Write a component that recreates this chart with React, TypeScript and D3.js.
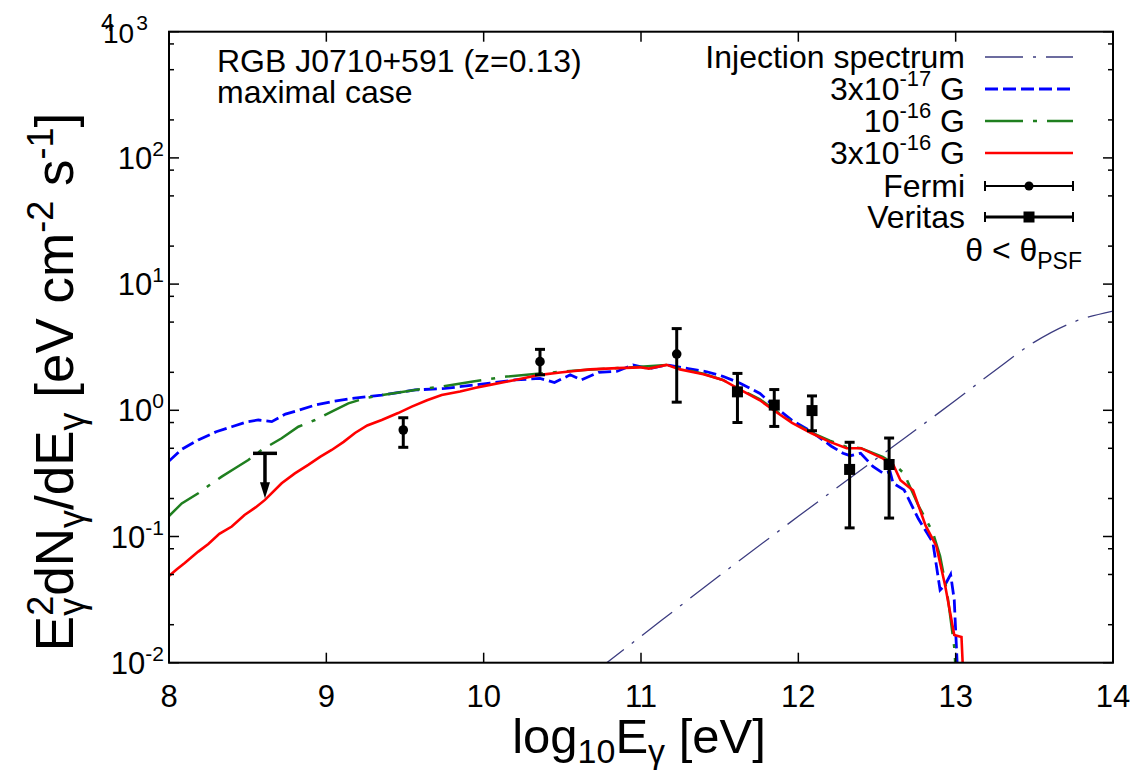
import React from "react";
import * as d3 from "d3";

// ---------- data (x = log10 E [eV], y = E^2 dN/dE [eV cm^-2 s^-1]) ----------
const injectionE = [10.7, 11.0, 11.5, 12.0, 12.5, 13.0, 13.25, 13.5, 13.75, 14.0];
const injectionF = [0.00832, 0.0162, 0.049, 0.1445, 0.417, 1.2, 2.07, 3.47, 5.01, 6.12];

const blueE = [8.0, 8.08, 8.186, 8.3, 8.399, 8.5, 8.568, 8.653, 8.74, 8.822, 8.93, 9.034, 9.161, 9.352, 9.564, 9.754, 10.04, 10.2, 10.358, 10.45, 10.55, 10.62, 10.73, 10.85, 10.949, 11.05, 11.163, 11.3, 11.418, 11.52, 11.63, 11.756, 11.85, 11.96, 12.081, 12.21, 12.284, 12.33, 12.396, 12.474, 12.538, 12.583, 12.602, 12.672, 12.763, 12.855, 12.901, 12.932, 12.968, 12.991, 13.013];
const blueF = [0.396, 0.49, 0.582, 0.676, 0.741, 0.813, 0.838, 0.813, 0.933, 1.0, 1.1, 1.17, 1.24, 1.32, 1.45, 1.49, 1.64, 1.74, 1.79, 1.66, 1.91, 1.74, 2.0, 2.04, 2.29, 2.14, 2.29, 2.14, 2.02, 1.86, 1.64, 1.36, 1.07, 0.832, 0.681, 0.519, 0.457, 0.437, 0.457, 0.359, 0.318, 0.326, 0.265, 0.234, 0.138, 0.0897, 0.0377, 0.0413, 0.05, 0.0314, 0.0079];

const greenE = [8.0, 8.081, 8.186, 8.26, 8.335, 8.42, 8.504, 8.589, 8.716, 8.822, 8.928, 9.034, 9.14, 9.246, 9.352, 9.564, 9.733, 9.932, 10.146, 10.358, 10.612, 10.85, 10.994, 11.163, 11.248, 11.397, 11.52, 11.624, 11.756, 11.852, 11.96, 12.081, 12.2, 12.307, 12.398, 12.536, 12.604, 12.672, 12.763, 12.855, 12.901, 12.946, 12.991, 13.002];
const greenF = [0.145, 0.183, 0.22, 0.257, 0.298, 0.347, 0.404, 0.485, 0.6, 0.741, 0.838, 0.975, 1.135, 1.245, 1.32, 1.45, 1.54, 1.69, 1.85, 1.96, 2.08, 2.16, 2.21, 2.29, 2.14, 1.95, 1.74, 1.48, 1.22, 1.0, 0.81, 0.668, 0.575, 0.513, 0.501, 0.427, 0.38, 0.315, 0.176, 0.108, 0.07, 0.0357, 0.0133, 0.0079];

const redE = [8.0, 8.05, 8.1, 8.186, 8.25, 8.32, 8.399, 8.48, 8.55, 8.61, 8.716, 8.8, 8.885, 8.96, 9.034, 9.11, 9.182, 9.26, 9.352, 9.456, 9.543, 9.64, 9.733, 9.85, 9.95, 10.04, 10.2, 10.358, 10.5, 10.676, 10.85, 10.994, 11.05, 11.163, 11.248, 11.397, 11.52, 11.624, 11.756, 11.852, 11.96, 12.081, 12.2, 12.307, 12.398, 12.536, 12.604, 12.649, 12.729, 12.809, 12.877, 12.934, 12.991, 13.037, 13.048];
const redF = [0.0486, 0.055, 0.0617, 0.0759, 0.0871, 0.105, 0.12, 0.148, 0.17, 0.195, 0.264, 0.316, 0.369, 0.427, 0.485, 0.562, 0.661, 0.759, 0.838, 0.951, 1.07, 1.2, 1.32, 1.41, 1.51, 1.59, 1.74, 1.91, 2.0, 2.11, 2.16, 2.19, 2.14, 2.29, 2.11, 1.93, 1.74, 1.47, 1.2, 0.984, 0.794, 0.661, 0.562, 0.501, 0.501, 0.416, 0.369, 0.279, 0.232, 0.122, 0.0843, 0.0403, 0.0166, 0.016, 0.0079];

const fermiE = [9.489, 10.358, 11.227];
const fermiF = [0.698, 2.43, 2.79];
const fermiLo = [0.509, 1.91, 1.16];
const fermiHi = [0.873, 3.04, 4.44];
const fermiLimitE = [8.61];
const fermiLimitF = [0.456];
const fermiLimitTip = [0.201];

const veritasE = [11.613, 11.847, 12.087, 12.326, 12.577];
const veritasF = [1.4, 1.1, 0.995, 0.34, 0.372];
const veritasLo = [0.8, 0.745, 0.689, 0.117, 0.14];
const veritasHi = [1.96, 1.46, 1.3, 0.558, 0.603];

const xTickValues = [8, 9, 10, 11, 12, 13, 14];
const yTickExponents = [-2, -1, 0, 1, 2, 3];
const yMinorMultipliers = [2, 5, 8];

// ---------- layout ----------
const W = 1139;
const H = 775;
const X0 = 169, X1 = 1113, Y0 = 31.7, Y1 = 662.7;
const FONT = "'Liberation Sans', Arial, Helvetica, sans-serif";

const x = d3.scaleLinear().domain([8, 14]).range([X0, X1]);
const y = d3.scaleLog().domain([1e-2, 1e3]).range([Y1, Y0]);

function pts(es: number[], fs: number[]): [number, number][] {
  return es.map((e, i) => [e, fs[i]]);
}
const lineGen = d3
  .line<[number, number]>()
  .x((d) => x(d[0]))
  .y((d) => y(d[1]));
const smoothGen = d3
  .line<[number, number]>()
  .x((d) => x(d[0]))
  .y((d) => y(d[1]))
  .curve(d3.curveMonotoneX);

const INJ_COLOR = "#3c3c80";
const BLUE = "#0000ff";
const GREEN = "#1f7f1f";
const RED = "#ff0000";

export default function App() {
  const yMinor: number[] = [];
  for (let p = -2; p < 3; p++) {
    for (const m of yMinorMultipliers) yMinor.push(m * Math.pow(10, p));
  }
  const legendX0 = 985, legendX1 = 1073, legendTextX = 965;
  const legY = [57, 89, 121, 153, 186, 217];
  const mid = (legendX0 + legendX1) / 2;

  return (
    <svg
      width={W}
      height={H}
      style={{ position: "absolute", left: 0, top: 0, background: "#fff" }}
      fontFamily={FONT}
    >
      <defs>
        <clipPath id="plotclip">
          <rect x={X0} y={Y0} width={X1 - X0} height={Y1 - Y0} />
        </clipPath>
      </defs>
      <rect x={0} y={0} width={W} height={H} fill="#fff" />

      {/* curves */}
      <g clipPath="url(#plotclip)" fill="none">
        <path d={smoothGen(pts(injectionE, injectionF)) || ""} stroke={INJ_COLOR} strokeWidth={1.3} strokeDasharray="38,10,3,10" />
        <path d={lineGen(pts(blueE, blueF)) || ""} stroke={BLUE} strokeWidth={2.8} strokeDasharray="13,5" />
        <path d={lineGen(pts(greenE, greenF)) || ""} stroke={GREEN} strokeWidth={2.5} strokeDasharray="38,10,4,10" />
        <path d={lineGen(pts(redE, redF)) || ""} stroke={RED} strokeWidth={2.6} />
      </g>

      {/* Fermi points */}
      <g stroke="#000" strokeWidth={3} fill="#000">
        {fermiE.map((e, i) => (
          <g key={"f" + i}>
            <line x1={x(e)} x2={x(e)} y1={y(fermiLo[i])} y2={y(fermiHi[i])} />
            <line x1={x(e) - 5} x2={x(e) + 5} y1={y(fermiLo[i])} y2={y(fermiLo[i])} />
            <line x1={x(e) - 5} x2={x(e) + 5} y1={y(fermiHi[i])} y2={y(fermiHi[i])} />
            <circle cx={x(e)} cy={y(fermiF[i])} r={4.8} stroke="none" />
          </g>
        ))}
        {fermiLimitE.map((e, i) => (
          <g key={"ul" + i}>
            <line x1={x(e) - 12} x2={x(e) + 12} y1={y(fermiLimitF[i])} y2={y(fermiLimitF[i])} strokeWidth={3.5} />
            <line x1={x(e)} x2={x(e)} y1={y(fermiLimitF[i])} y2={y(fermiLimitTip[i]) - 12} strokeWidth={3.5} />
            <polygon
              stroke="none"
              points={`${x(e) - 5},${y(fermiLimitTip[i]) - 16} ${x(e) + 5},${y(fermiLimitTip[i]) - 16} ${x(e)},${y(fermiLimitTip[i])}`}
            />
          </g>
        ))}
      </g>

      {/* Veritas points */}
      <g stroke="#000" strokeWidth={3} fill="#000">
        {veritasE.map((e, i) => (
          <g key={"v" + i}>
            <line x1={x(e)} x2={x(e)} y1={y(veritasLo[i])} y2={y(veritasHi[i])} />
            <line x1={x(e) - 5} x2={x(e) + 5} y1={y(veritasLo[i])} y2={y(veritasLo[i])} />
            <line x1={x(e) - 5} x2={x(e) + 5} y1={y(veritasHi[i])} y2={y(veritasHi[i])} />
            <rect x={x(e) - 5.5} y={y(veritasF[i]) - 5.5} width={11} height={11} stroke="none" />
          </g>
        ))}
      </g>

      {/* frame */}
      <rect x={X0} y={Y0} width={X1 - X0} height={Y1 - Y0} fill="none" stroke="#000" strokeWidth={2} />

      {/* ticks */}
      <g stroke="#000" strokeWidth={1.5}>
        {xTickValues.map((t) => (
          <g key={"xt" + t}>
            <line x1={x(t)} x2={x(t)} y1={Y1} y2={Y1 - 10} />
            <line x1={x(t)} x2={x(t)} y1={Y0} y2={Y0 + 10} />
          </g>
        ))}
        {yTickExponents.map((p) => (
          <g key={"yt" + p}>
            <line x1={X0} x2={X0 + 10} y1={y(Math.pow(10, p))} y2={y(Math.pow(10, p))} />
            <line x1={X1} x2={X1 - 10} y1={y(Math.pow(10, p))} y2={y(Math.pow(10, p))} />
          </g>
        ))}
        {yMinor.map((v, i) => (
          <g key={"ym" + i}>
            <line x1={X0} x2={X0 + 5} y1={y(v)} y2={y(v)} />
            <line x1={X1} x2={X1 - 5} y1={y(v)} y2={y(v)} />
          </g>
        ))}
      </g>

      {/* x tick labels */}
      <g fontSize={31} textAnchor="middle" fill="#000">
        {xTickValues.map((t) => (
          <text key={"xl" + t} x={x(t)} y={707}>
            {t}
          </text>
        ))}
      </g>

      {/* y tick labels */}
      <g fill="#000">
        {yTickExponents.map((p) =>
          p < 3 ? (
            <text key={"yl" + p} x={164} y={y(Math.pow(10, p)) + 11} fontSize={31} textAnchor="end">
              10
              <tspan fontSize={21} dy={-13}>
                {p < 0 ? "-" + Math.abs(p) : String(p)}
              </tspan>
            </text>
          ) : (
            <text key={"yl" + p} x={103} y={y(Math.pow(10, p)) + 11} fontSize={28} textAnchor="start">
              10
              <tspan fontSize={21} dx={2} dy={-13}>
                {String(p)}
              </tspan>
            </text>
          )
        )}
        <text x={101} y={31} fontSize={24}>4</text>
      </g>

      {/* axis titles */}
      <text x={639} y={753} fontSize={49} textAnchor="middle" fill="#000">
        log
        <tspan fontSize={34} dy={10}>10</tspan>
        <tspan dy={-10}>E</tspan>
        <tspan fontSize={34} dy={10}>γ</tspan>
        <tspan dy={-10}> [eV]</tspan>
      </text>
      <text transform="translate(73,382) rotate(-90)" fontSize={53} textAnchor="middle" fill="#000">
        E
        <tspan fontSize={36} dy={11}>γ</tspan>
        <tspan fontSize={36} dx={-18} dy={-31}>2</tspan>
        <tspan dy={20}>dN</tspan>
        <tspan fontSize={36} dy={11}>γ</tspan>
        <tspan dy={-11}>/dE</tspan>
        <tspan fontSize={36} dy={11}>γ</tspan>
        <tspan dy={-11}> [eV cm</tspan>
        <tspan fontSize={36} dy={-20}>-2</tspan>
        <tspan dy={20}> s</tspan>
        <tspan fontSize={36} dy={-20}>-1</tspan>
        <tspan dy={20}>]</tspan>
      </text>

      {/* annotation */}
      <g fontSize={32} fill="#000">
        <text x={217} y={72}>RGB J0710+591 (z=0.13)</text>
        <text x={217} y={103}>maximal case</text>
      </g>

      {/* legend */}
      <g fontSize={32} fill="#000" textAnchor="end">
        <text x={legendTextX} y={legY[0] + 11}>Injection spectrum</text>
        <text x={legendTextX} y={legY[1] + 11}>
          3x10<tspan fontSize={22} dy={-14}>-17</tspan>
          <tspan dy={14}> G</tspan>
        </text>
        <text x={legendTextX} y={legY[2] + 11}>
          10<tspan fontSize={22} dy={-14}>-16</tspan>
          <tspan dy={14}> G</tspan>
        </text>
        <text x={legendTextX} y={legY[3] + 11}>
          3x10<tspan fontSize={22} dy={-14}>-16</tspan>
          <tspan dy={14}> G</tspan>
        </text>
        <text x={legendTextX} y={legY[4] + 11}>Fermi</text>
        <text x={legendTextX} y={legY[5] + 11}>Veritas</text>
        <text x={1082} y={261}>
          θ &lt; θ<tspan fontSize={23} dy={8}>PSF</tspan>
        </text>
      </g>
      <g fill="none">
        <line x1={legendX0} x2={legendX1} y1={legY[0]} y2={legY[0]} stroke={INJ_COLOR} strokeWidth={1.3} strokeDasharray="38,10,3,10" />
        <line x1={legendX0} x2={legendX1} y1={legY[1]} y2={legY[1]} stroke={BLUE} strokeWidth={2.8} strokeDasharray="13,5" />
        <line x1={legendX0} x2={legendX1} y1={legY[2]} y2={legY[2]} stroke={GREEN} strokeWidth={2.5} strokeDasharray="38,10,4,10" />
        <line x1={legendX0} x2={legendX1} y1={legY[3]} y2={legY[3]} stroke={RED} strokeWidth={2.6} />
      </g>
      <g stroke="#000" fill="#000">
        <line x1={legendX0} x2={legendX1} y1={legY[4]} y2={legY[4]} strokeWidth={2} />
        <line x1={legendX0} x2={legendX0} y1={legY[4] - 5} y2={legY[4] + 5} strokeWidth={2} />
        <line x1={legendX1} x2={legendX1} y1={legY[4] - 5} y2={legY[4] + 5} strokeWidth={2} />
        <circle cx={mid} cy={legY[4]} r={4.5} stroke="none" />
        <line x1={legendX0} x2={legendX1} y1={legY[5]} y2={legY[5]} strokeWidth={3} />
        <line x1={legendX0} x2={legendX0} y1={legY[5] - 5} y2={legY[5] + 5} strokeWidth={2} />
        <line x1={legendX1} x2={legendX1} y1={legY[5] - 5} y2={legY[5] + 5} strokeWidth={2} />
        <rect x={mid - 5.5} y={legY[5] - 5.5} width={11} height={11} stroke="none" />
      </g>
    </svg>
  );
}
